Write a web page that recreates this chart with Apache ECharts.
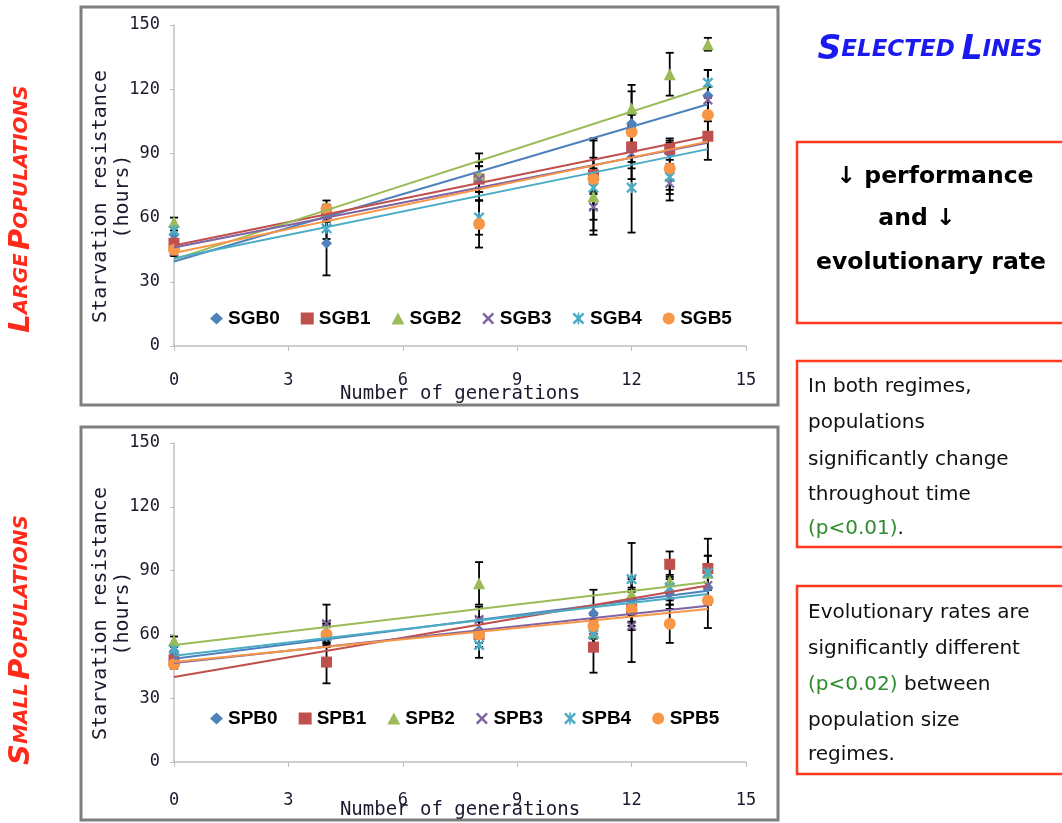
<!DOCTYPE html>
<html><head><meta charset="utf-8">
<script src="https://cdn.jsdelivr.net/npm/echarts@6/dist/echarts.min.js"></script>
<style>html,body{margin:0;padding:0;background:#fff}#c{width:1062px;height:823px}</style>
</head><body><div id="c"></div>
<script>
// ---- data ----
const gens = [0, 4, 8, 11, 12, 13, 14];
const xTicks = [0, 3, 6, 9, 12, 15];
const yTicks = [0, 30, 60, 90, 120, 150];
const largeNames = ['SGB0', 'SGB1', 'SGB2', 'SGB3', 'SGB4', 'SGB5'];
const smallNames = ['SPB0', 'SPB1', 'SPB2', 'SPB3', 'SPB4', 'SPB5'];

const SGB0 = [52, 48, 79, 77, 104, 90, 117];
const SGB1 = [48, 62, 78, 80, 93, 92, 98];
const SGB2 = [58, 63, 80, 70, 111, 127, 141];
const SGB3 = [44, 60, 78, 65, 90, 76, 115];
const SGB4 = [54, 55, 60, 74, 74, 79, 123];
const SGB5 = [45, 64, 57, 78, 100, 83, 108];

const SGB0err = [2, 15, 11, 6, 18, 6, 12];
const SGB1err = [2, 4, 6, 8, 10, 5, 11];
const SGB2err = [2, 3, 6, 6, 8, 10, 3];
const SGB3err = [2, 4, 6, 11, 12, 8, 6];
const SGB4err = [2, 5, 8, 22, 21, 6, 6];
const SGB5err = [2, 4, 11, 19, 8, 12, 8];

const SPB0 = [52, 61, 62, 70, 76, 80, 82];
const SPB1 = [48, 47, 60, 54, 72, 93, 91];
const SPB2 = [57, 61, 84, 61, 79, 85, 89];
const SPB3 = [46, 65, 67, 62, 64, 78, 83];
const SPB4 = [53, 59, 55, 60, 86, 82, 89];
const SPB5 = [46, 60, 60, 64, 72, 65, 76];

const SPB0err = [2, 5, 6, 11, 10, 6, 8];
const SPB1err = [2, 10, 6, 12, 10, 6, 14];
const SPB2err = [2, 4, 10, 6, 8, 6, 8];
const SPB3err = [2, 9, 6, 7, 17, 6, 8];
const SPB4err = [2, 5, 6, 6, 17, 6, 8];
const SPB5err = [2, 5, 6, 6, 8, 9, 13];

// linear trend lines: value at generation 0 and generation 14
const trendX = [0, 14];
const trendLargeStart = [39.5, 47, 40.5, 46, 41, 43.5];
const trendLargeEnd = [113, 98, 121, 95, 92, 95.5];
const trendSmallStart = [48.5, 40, 55, 46.5, 50, 47];
const trendSmallEnd = [80.5, 83, 84.6, 73.5, 79, 72];

// ---- styles ----
const colors = ['#4F81BD', '#C0504D', '#9BBB59', '#8064A2', '#4BACC6', '#F79646'];
const xPath = 'path://M0,1.5 L1.5,0 L5,3.5 L8.5,0 L10,1.5 L6.5,5 L10,8.5 L8.5,10 L5,6.5 L1.5,10 L0,8.5 L3.5,5 Z';
const starPath = xPath + ' M4.3,0 L5.7,0 L5.7,10 L4.3,10 Z';
const symbols = ['diamond', 'rect', 'triangle', xPath, starPath, 'circle'];
const symSizes = [11, 11, 12, 10, 11, 12];

const largeVals = [SGB0, SGB1, SGB2, SGB3, SGB4, SGB5];
const largeErrs = [SGB0err, SGB1err, SGB2err, SGB3err, SGB4err, SGB5err];
const smallVals = [SPB0, SPB1, SPB2, SPB3, SPB4, SPB5];
const smallErrs = [SPB0err, SPB1err, SPB2err, SPB3err, SPB4err, SPB5err];

const monoFont = 'DejaVu Sans Mono';

function makeAxes(gi, xNameGap, labelMargin) {
  return {
    x: {
      type: 'value', gridIndex: gi, min: 0, max: 15, interval: 3,
      name: 'Number of generations', nameLocation: 'middle', nameGap: xNameGap, nameMoveOverlap: false,
      nameTextStyle: {fontFamily: monoFont, fontSize: 19, color: '#1a1a2e'},
      axisLine: {lineStyle: {color: '#BFBFBF', width: 1.5}},
      axisTick: {inside: false, length: 5, lineStyle: {color: '#BFBFBF'}},
      axisLabel: {margin: labelMargin, fontFamily: monoFont, fontSize: 17, color: '#1a1a2e'},
      splitLine: {show: false}
    },
    y: {
      type: 'value', gridIndex: gi, min: 0, max: 150, interval: 30,
      name: 'Starvation resistance\n(hours)', nameLocation: 'middle', nameGap: 40, nameMoveOverlap: false,
      nameTextStyle: {fontFamily: monoFont, fontSize: 20, color: '#1a1a2e', lineHeight: 22, padding: [0, 22, 0, 0]},
      axisLine: {show: true, lineStyle: {color: '#BFBFBF', width: 1.5}},
      axisTick: {show: true, inside: false, length: 4, lineStyle: {color: '#BFBFBF'}},
      axisLabel: {margin: 14, fontFamily: monoFont, fontSize: 17, color: '#1a1a2e'},
      splitLine: {show: false}
    }
  };
}

const a0 = makeAxes(0, 39, 26), a1 = makeAxes(1, 39, 30);

function errRender(params, api) {
  const x = api.value(0);
  const p1 = api.coord([x, api.value(1)]);
  const p2 = api.coord([x, api.value(2)]);
  const cap = 4;
  const st = {stroke: '#000', lineWidth: 1.8};
  return {
    type: 'group',
    children: [
      {type: 'line', shape: {x1: p1[0], y1: p1[1], x2: p2[0], y2: p2[1]}, style: st},
      {type: 'line', shape: {x1: p1[0] - cap, y1: p1[1], x2: p1[0] + cap, y2: p1[1]}, style: st},
      {type: 'line', shape: {x1: p2[0] - cap, y1: p2[1], x2: p2[0] + cap, y2: p2[1]}, style: st}
    ]
  };
}

const series = [];
function addGroup(names, vals, errs, tStart, tEnd, gi) {
  names.forEach((n, i) => {
    series.push({
      type: 'custom', name: n + ' err', xAxisIndex: gi, yAxisIndex: gi, z: 2,
      renderItem: errRender, silent: true,
      data: gens.map((g, j) => [g, vals[i][j] - errs[i][j], vals[i][j] + errs[i][j]])
    });
  });
  names.forEach((n, i) => {
    series.push({
      type: 'scatter', name: n, xAxisIndex: gi, yAxisIndex: gi, z: 3,
      symbol: symbols[i], symbolSize: symSizes[i],
      itemStyle: {color: colors[i], opacity: 1},
      data: gens.map((g, j) => [g, vals[i][j]])
    });
  });
  names.forEach((n, i) => {
    series.push({
      type: 'line', name: n + ' trend', xAxisIndex: gi, yAxisIndex: gi, z: 4,
      showSymbol: false, symbol: 'none', silent: true,
      lineStyle: {color: colors[i], width: 2},
      data: [[trendX[0], tStart[i]], [trendX[1], tEnd[i]]]
    });
  });
}
addGroup(largeNames, largeVals, largeErrs, trendLargeStart, trendLargeEnd, 0);
addGroup(smallNames, smallVals, smallErrs, trendSmallStart, trendSmallEnd, 1);

const legendText = {fontFamily: 'Liberation Sans', fontWeight: 'bold', fontSize: 19, color: '#000'};

const bodyFont = 'DejaVu Sans';
function lineText(x, y, txt) {
  return {
    type: 'text', left: x, top: y, z: 10,
    style: {
      text: txt, fontFamily: bodyFont, fontSize: 20, fill: '#111',
      rich: {g: {fill: '#2E8B2E', fontFamily: bodyFont, fontSize: 20}}
    }
  };
}

const bigStyle = (c, s) => ({fontFamily: 'DejaVu Sans', fontStyle: 'italic', fontWeight: 'bold', fontSize: s, fill: c});

const graphic = [
  // chart frames
  {type: 'rect', shape: {x: 81, y: 7, width: 697, height: 398}, style: {fill: 'none', stroke: '#7F7F7F', lineWidth: 3}, z: 0},
  {type: 'rect', shape: {x: 81, y: 427, width: 697, height: 393}, style: {fill: 'none', stroke: '#7F7F7F', lineWidth: 3}, z: 0},
  // side titles
  {type: 'text', x: 36, y: 209, rotation: Math.PI / 2, z: 10,
   style: {text: '{b|L}{s|ARGE} {b|P}{s|OPULATIONS}', align: 'center', verticalAlign: 'bottom',
     rich: {b: bigStyle('#FF2A1A', 29), s: bigStyle('#FF2A1A', 20)}}},
  {type: 'text', x: 36, y: 640, rotation: Math.PI / 2, z: 10,
   style: {text: '{b|S}{s|MALL} {b|P}{s|OPULATIONS}', align: 'center', verticalAlign: 'bottom',
     rich: {b: bigStyle('#FF2A1A', 29), s: bigStyle('#FF2A1A', 20)}}},
  {type: 'text', x: 930, y: 67, z: 10,
   style: {text: '{b|S}{s|ELECTED}  {b|L}{s|INES}', align: 'center', verticalAlign: 'bottom',
     rich: {b: bigStyle('#1A1AF0', 33), s: bigStyle('#1A1AF0', 23)}}},
  // boxes
  {type: 'rect', shape: {x: 797, y: 142, width: 275, height: 181}, style: {fill: 'none', stroke: '#FF3A1E', lineWidth: 2.5}, z: 5},
  {type: 'rect', shape: {x: 797, y: 361, width: 275, height: 186}, style: {fill: 'none', stroke: '#FF3A1E', lineWidth: 2.5}, z: 5},
  {type: 'rect', shape: {x: 797, y: 586, width: 275, height: 188}, style: {fill: 'none', stroke: '#FF3A1E', lineWidth: 2.5}, z: 5},
  {type: 'text', x: 935, y: 177, z: 10, style: {text: '↓ performance', align: 'center', verticalAlign: 'middle', fontFamily: bodyFont, fontWeight: 'bold', fontSize: 23.5, fill: '#000'}},
  {type: 'text', x: 917, y: 219, z: 10, style: {text: 'and ↓', align: 'center', verticalAlign: 'middle', fontFamily: bodyFont, fontWeight: 'bold', fontSize: 23.5, fill: '#000'}},
  {type: 'text', x: 931, y: 263, z: 10, style: {text: 'evolutionary rate', align: 'center', verticalAlign: 'middle', fontFamily: bodyFont, fontWeight: 'bold', fontSize: 23.5, fill: '#000'}},
  lineText(808, 377, 'In both regimes,'),
  lineText(808, 413, 'populations'),
  lineText(808, 450, 'significantly change'),
  lineText(808, 485, 'throughout time'),
  lineText(808, 519, '{g|(p<0.01)}.'),
  lineText(808, 603, 'Evolutionary rates are'),
  lineText(808, 639, 'significantly different'),
  lineText(808, 675, '{g|(p<0.02)} between'),
  lineText(808, 711, 'population size'),
  lineText(808, 745, 'regimes.')
];

const option = {
  backgroundColor: '#fff',
  animation: false,
  grid: [
    {left: 174, top: 25, width: 572, height: 321},
    {left: 174, top: 443, width: 572, height: 319}
  ],
  xAxis: [a0.x, a1.x],
  yAxis: [a0.y, a1.y],
  legend: [
    {data: largeNames, left: 205, top: 304, itemWidth: 13, itemHeight: 12, itemGap: 21, textStyle: legendText},
    {data: smallNames, left: 205, top: 704, itemWidth: 13, itemHeight: 12, itemGap: 21, textStyle: legendText}
  ],
  series: series,
  graphic: graphic
};

const chart = echarts.init(document.getElementById('c'), null, {renderer: 'canvas'});
chart.setOption(option);
</script>
</body></html>
